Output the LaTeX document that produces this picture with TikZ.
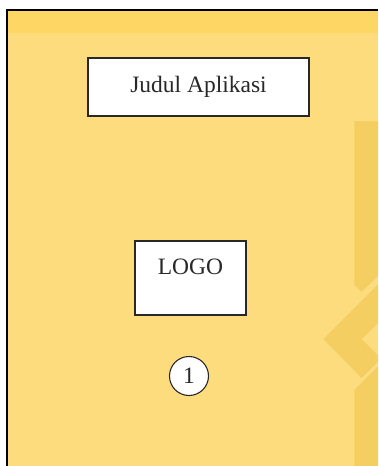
\documentclass[tikz,border=0pt]{standalone}
\usepackage{fontspec}
\setmainfont{Liberation Serif}
\definecolor{pagebg}{RGB}{253,220,126}
\definecolor{bandbg}{RGB}{253,214,100}
\definecolor{decor}{RGB}{245,206,98}
\definecolor{ink}{RGB}{40,40,40}
\tikzset{
  framebox/.style={draw=ink, line width=1.3pt, fill=white, inner sep=0pt, text=ink, font=\fontsize{23.5}{28}\selectfont},
  numcircle/.style={circle, draw=ink, line width=1.1pt, fill=white, minimum size=39pt, inner sep=0pt, text=ink, font=\fontsize{23.5}{28}\selectfont},
  deco/.style={fill=decor, draw=none}
}
\begin{document}
\begin{tikzpicture}[x=1pt,y=-1pt]
  \useasboundingbox (0,0) rectangle (378,466);
  % screen background
  \fill[white] (0,0) rectangle (378,466);
  \fill[pagebg] (7,10) rectangle (378,466);
  \fill[bandbg] (7,10) rectangle (378,33);
  % decorative chevron on the right edge
  \fill[deco] (354.3,121) -- (378,121) -- (378,276) -- (361.7,291.7) -- (354.3,285) -- cycle;
  \fill[deco] (323.3,339) -- (378,284.3) -- (378,323) -- (361.7,339) -- (378,355.3) -- (378,361.7) -- (361.7,378) -- cycle;
  \fill[deco] (354.3,390) -- (378,366.3) -- (378,466) -- (354.3,466) -- cycle;
  % screen frame
  \draw[black, line width=2pt] (7,466) -- (7,10) -- (378,10);
  % content
  \node[framebox, minimum width=221pt, minimum height=58pt] (judul) at (198.5,87) {Judul Aplikasi};
  \node[framebox, minimum width=111pt, minimum height=74pt, text height=16pt, text depth=24pt] (logo) at (190.5,278) {LOGO};
  \node[numcircle] (satu) at (189,376) {1};
\end{tikzpicture}
\end{document}
